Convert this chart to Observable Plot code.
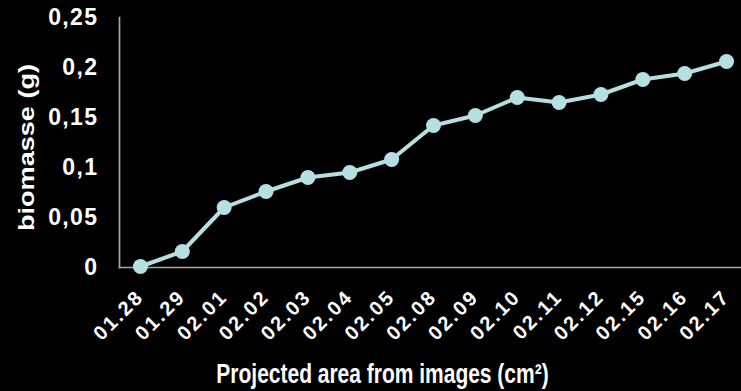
<!DOCTYPE html>
<html>
<head>
<meta charset="utf-8">
<script src="https://cdn.jsdelivr.net/npm/d3@7"></script>
<script src="https://cdn.jsdelivr.net/npm/@observablehq/plot@0.6"></script>
<style>
  html, body { margin: 0; padding: 0; background: #000; }
  #chart { width: 741px; height: 391px; overflow: hidden; }
  svg { display: block; }
</style>
</head>
<body>
<div id="chart"></div>
<script>
const dates = ["01.28","01.29","02.01","02.02","02.03","02.04","02.05","02.08","02.09","02.10","02.11","02.12","02.15","02.16","02.17"];
const biomass = [0.001,0.016,0.060,0.076,0.090,0.095,0.108,0.142,0.152,0.170,0.165,0.173,0.188,0.194,0.206];
const yTicks = [0, 0.05, 0.1, 0.15, 0.2, 0.25];
const xTitle = "Projected area from images (cm²)";
const yTitle = "biomasse (g)";

const data = dates.map((d, i) => ({i, date: d, value: biomass[i]}));
const color = "#b6dfe2";
const font = "'Liberation Sans', Arial, sans-serif";

const chart = Plot.plot({
  width: 741,
  height: 391,
  marginLeft: 119,
  marginRight: 0,
  marginTop: 17,
  marginBottom: 124,
  style: {background: "#000", color: "#fff", fontFamily: font, fontWeight: "bold", overflow: "visible"},
  x: {type: "linear", domain: [-0.5, dates.length - 0.5], range: [119, 747], axis: null},
  y: {domain: [0, 0.25], label: null, axis: null},
  marks: [
    Plot.axisY({ticks: yTicks, tickSize: 0, tickPadding: 21, fontSize: 23, tickFormat: d => String(d).replace(".", ","), label: null, ariaDescription: "y-ticks"}),
    Plot.text(data, {x: "i", frameAnchor: "bottom", text: "date", rotate: -45, textAnchor: "end", lineAnchor: "middle", dx: 0, dy: 26, fontSize: 20, fill: "#fff", fontWeight: "bold", ariaDescription: "x-ticks"}),
    Plot.frame({anchor: "left", stroke: "#a6a6a6", strokeWidth: 1.7}),
    Plot.frame({anchor: "bottom", stroke: "#a6a6a6", strokeWidth: 1.7}),
    Plot.line(data, {x: "i", y: "value", stroke: color, strokeWidth: 4}),
    Plot.dot(data, {x: "i", y: "value", r: 7.5, fill: color}),
    Plot.text([xTitle], {frameAnchor: "bottom", lineAnchor: "middle", dx: -48, dy: 107, text: d => d, fontSize: 21, fill: "#fff", fontWeight: "bold", ariaDescription: "x-title"}),
    Plot.text([yTitle], {frameAnchor: "left", textAnchor: "middle", lineAnchor: "middle", dx: -93, dy: 5, rotate: -90, text: d => d, fontSize: 22, fill: "#fff", fontWeight: "bold", ariaDescription: "y-title"})
  ]
});
const svg = d3.select(chart);
const addTransform = (sel, extra) => sel.attr("transform", function() { return (this.getAttribute("transform") || "") + " " + extra; });
svg.selectAll('g[aria-description="y-ticks"] text').style("letter-spacing", "1.4px");
svg.selectAll('g[aria-description="x-ticks"] text').style("letter-spacing", "2.3px");
addTransform(svg.selectAll('g[aria-description="x-title"] text'), "scale(1,1.33)");
addTransform(svg.selectAll('g[aria-description="y-title"] text'), "scale(1.23,1)");
document.getElementById("chart").appendChild(chart);
</script>
</body>
</html>
